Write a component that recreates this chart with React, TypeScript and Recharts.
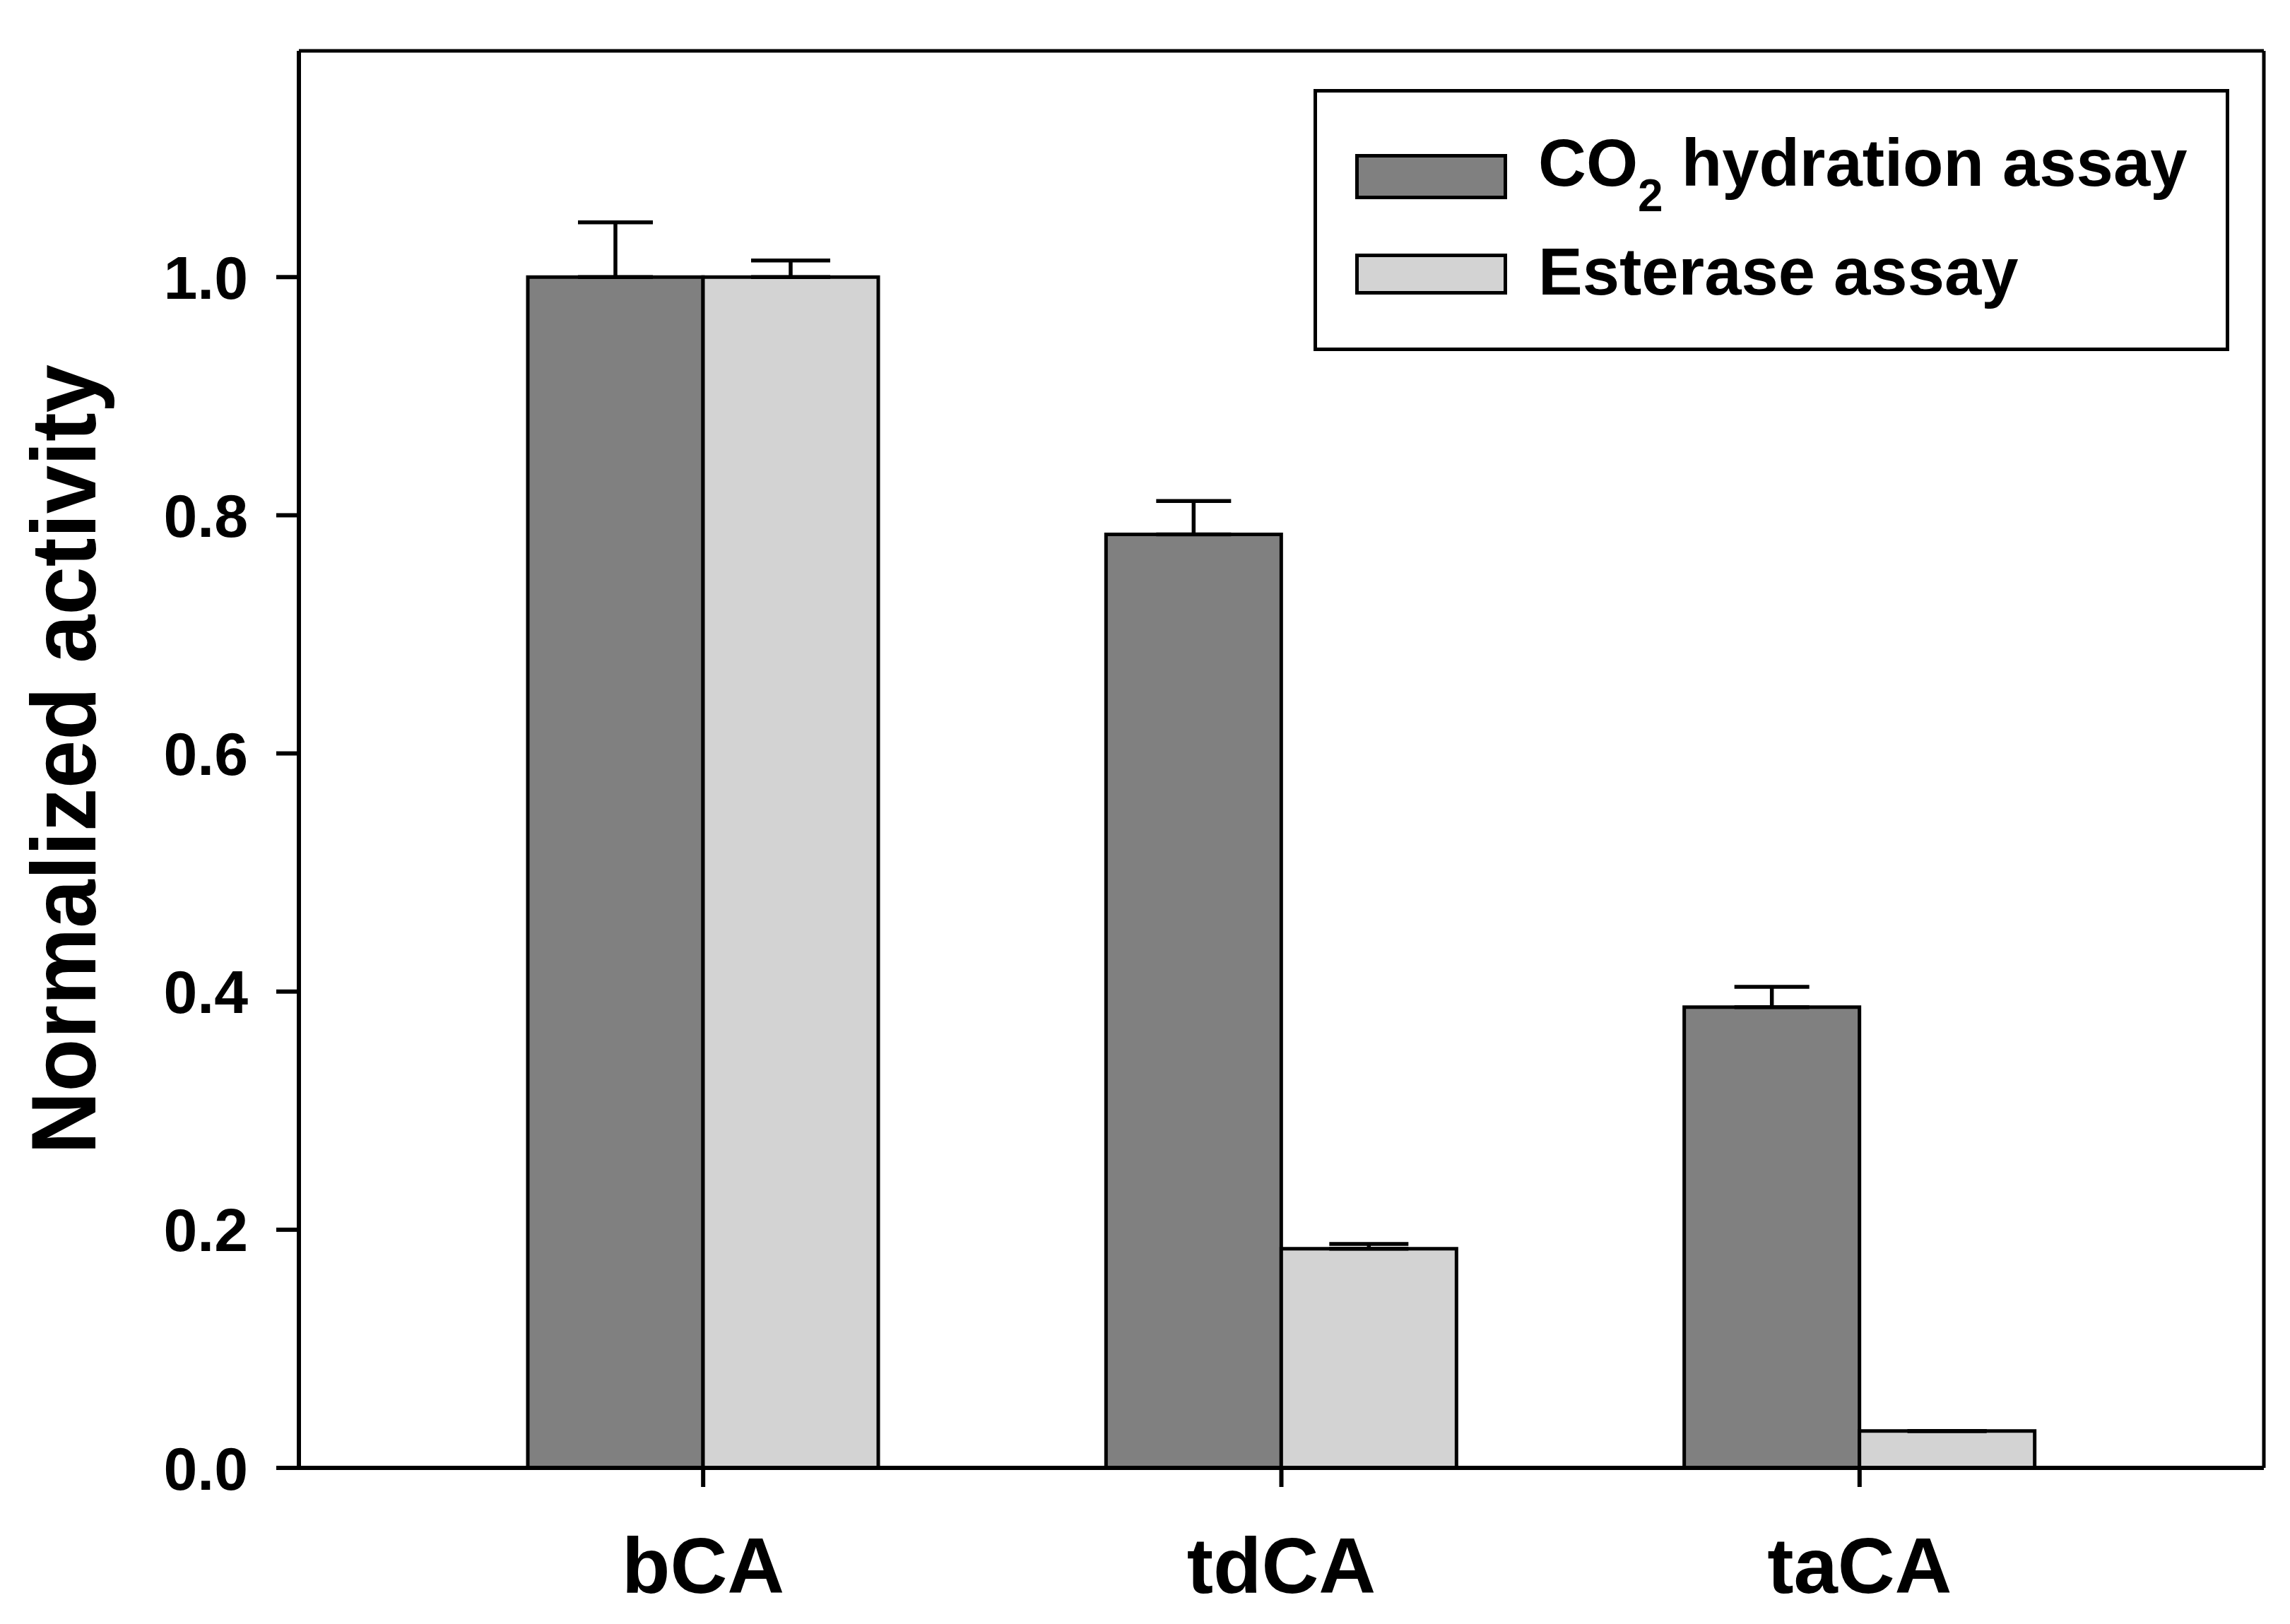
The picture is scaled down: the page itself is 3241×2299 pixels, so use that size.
import React from 'react';
import { BarChart, Bar, XAxis, YAxis, ErrorBar, Legend } from 'recharts';

// values
const categories = ['bCA', 'tdCA', 'taCA'];
const co2Values = [1.0, 0.784, 0.387];
const co2Errors = [0.046, 0.028, 0.017];
const esteraseValues = [1.0, 0.184, 0.031];
const esteraseErrors = [0.014, 0.004, 0];
const yTicks = [0, 0.2, 0.4, 0.6, 0.8, 1.0];

const data = categories.map((name, i) => ({
  name,
  co2: co2Values[i],
  co2Err: [0, co2Errors[i]],
  est: esteraseValues[i],
  estErr: [0, esteraseErrors[i]],
}));

const FONT = '"Liberation Sans", Arial, sans-serif';
const DARK = '#808080';
const LIGHT = '#d3d3d3';

// legend label, CO2 gets a real subscript
const renderLabel = (name: string, x: number, y: number) => {
  if (name.startsWith('CO2')) {
    return (
      <text x={x} y={y} fontFamily={FONT} fontWeight="bold" fontSize={94} fill="#000">
        CO
        <tspan fontSize={64} dy={36}>2</tspan>
        <tspan dy={-36} fontSize={94}>{name.slice(3)}</tspan>
      </text>
    );
  }
  return (
    <text x={x} y={y} fontFamily={FONT} fontWeight="bold" fontSize={94} fill="#000">
      {name}
    </text>
  );
};

const LegendBox = (props: any) => {
  const payload = props.payload || [];
  const rows = [
    { y: 94.5, h: 59, base: 137 },
    { y: 235.5, h: 53, base: 291 },
  ];
  return (
    <svg width={1296} height={371} style={{ display: 'block' }}>
      <rect x={2.5} y={2.5} width={1291} height={366} fill="#fff" stroke="#000" strokeWidth={5} />
      {payload.map((p: any, i: number) => {
        const r = rows[i];
        return (
          <g key={p.value}>
            <rect x={61.5} y={r.y} width={210} height={r.h} fill={p.color} stroke="#000" strokeWidth={5} />
            {renderLabel(p.value, 318, r.base)}
          </g>
        );
      })}
    </svg>
  );
};

const YTitle = () => (
  <text
    x={135}
    y={1075}
    transform="rotate(-90, 135, 1075)"
    textAnchor="middle"
    fontFamily={FONT}
    fontWeight="bold"
    fontSize={130}
    textLength={1118}
    lengthAdjust="spacingAndGlyphs"
    fill="#000"
  >
    Normalized activity
  </text>
);

export default function App() {
  return (
    <div style={{ position: 'absolute', left: 0, top: 0, width: 3241, height: 2299, background: '#fff' }}>
      <BarChart
        width={3241}
        height={2299}
        data={data}
        margin={{ top: 71, right: 36, left: 0, bottom: 0 }}
        barGap={0}
      >
        <XAxis
          dataKey="name"
          height={221}
          padding={{ left: 163, right: 163 }}
          tickSize={27}
          tickMargin={70}
          axisLine={{ stroke: '#000', strokeWidth: 6 }}
          tickLine={{ stroke: '#000', strokeWidth: 6 }}
          tick={{ fontSize: 112, fontWeight: 'bold', fill: '#000', fontFamily: FONT }}
        />
        {/* top and right frame lines */}
        <XAxis
          xAxisId="top"
          orientation="top"
          dataKey="name"
          height={1}
          tick={false}
          tickLine={false}
          axisLine={{ stroke: '#000', strokeWidth: 5 }}
        />
        <YAxis
          width={423}
          domain={[0, 1.19]}
          ticks={yTicks}
          interval={0}
          tickFormatter={(v: number) => v.toFixed(1)}
          tickSize={32}
          tickMargin={40}
          axisLine={{ stroke: '#000', strokeWidth: 6 }}
          tickLine={{ stroke: '#000', strokeWidth: 6 }}
          tick={{ fontSize: 86, fontWeight: 'bold', fill: '#000', fontFamily: FONT }}
          label={<YTitle />}
        />
        <YAxis
          yAxisId="right"
          orientation="right"
          width={1}
          domain={[0, 1.19]}
          tick={false}
          tickLine={false}
          axisLine={{ stroke: '#000', strokeWidth: 5 }}
        />
        <Legend
          layout="vertical"
          align="center"
          verticalAlign="middle"
          content={<LegendBox />}
          wrapperStyle={{ position: 'absolute', left: 1859, top: 126, width: 1296, height: 371 }}
        />
        <Bar
          dataKey="co2"
          name="CO2 hydration assay"
          fill={DARK}
          stroke="#000"
          strokeWidth={5}
          barSize={248}
          isAnimationActive={false}
        >
          <ErrorBar dataKey="co2Err" direction="y" width={53} stroke="#000" strokeWidth={5.5} />
        </Bar>
        <Bar
          dataKey="est"
          name="Esterase assay"
          fill={LIGHT}
          stroke="#000"
          strokeWidth={5}
          barSize={248}
          isAnimationActive={false}
        >
          <ErrorBar dataKey="estErr" direction="y" width={56} stroke="#000" strokeWidth={5.5} />
        </Bar>
      </BarChart>
    </div>
  );
}
